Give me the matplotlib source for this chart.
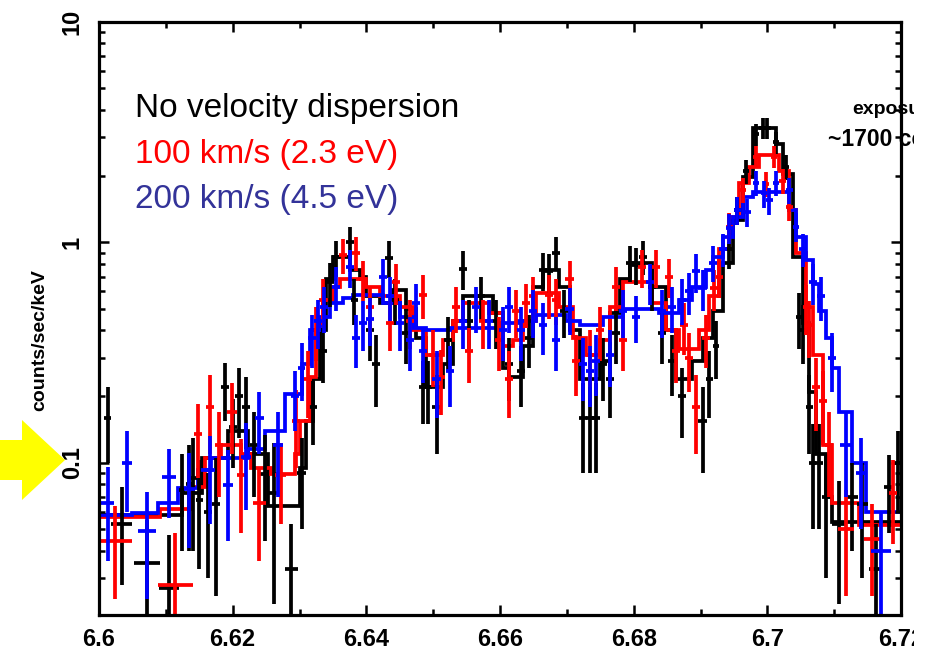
import numpy as np
import matplotlib
matplotlib.use('Agg')
import matplotlib.pyplot as plt
from matplotlib.patches import Polygon, Rectangle
from matplotlib.ticker import LogLocator, NullFormatter, MultipleLocator

plt.rcParams['font.family'] = ['Liberation Sans', 'DejaVu Sans']

# model step curves: bin edges (keV) and values (counts/sec/keV)
black_edges = [6.6000, 6.6124, 6.6154, 6.6193, 6.6223, 6.6253, 6.6300, 6.6310, 6.6320, 6.6330,
               6.6340, 6.6350, 6.6375, 6.6390, 6.6400, 6.6420, 6.6440, 6.6460, 6.6475, 6.6490,
               6.6515, 6.6530, 6.6544, 6.6589, 6.6604, 6.6614, 6.6634, 6.6649, 6.6664, 6.6689,
               6.6704, 6.6719, 6.6749, 6.6764, 6.6779, 6.6794, 6.6828, 6.6848, 6.6863, 6.6888,
               6.6903, 6.6918, 6.6933, 6.6948, 6.6963, 6.6978, 6.7013, 6.7023, 6.7038, 6.7053,
               6.7063, 6.7073, 6.7088, 6.7097, 6.7200]
black_model = [0.058, 0.073, 0.105, 0.14, 0.11, 0.064, 0.095, 0.155, 0.24, 0.40,
               0.68, 0.86, 0.75, 0.70, 0.57, 0.53, 0.61, 0.50, 0.37, 0.22,
               0.28, 0.44, 0.57, 0.48, 0.27, 0.245, 0.34, 0.63, 0.75, 0.63,
               0.40, 0.24, 0.29, 0.48, 0.68, 0.81, 0.63, 0.40, 0.24, 0.29,
               0.37, 0.49, 0.81, 1.27, 1.98, 3.3, 2.8, 2.05, 0.86, 0.43,
               0.21, 0.11, 0.07, 0.054]

red_edges = [6.6000, 6.6091, 6.6139, 6.6158, 6.6183, 6.6213, 6.6228, 6.6258, 6.6293, 6.6300,
             6.6315, 6.6325, 6.6335, 6.6350, 6.6360, 6.6400, 6.6420, 6.6450, 6.6470, 6.6490,
             6.6515, 6.6530, 6.6544, 6.6584, 6.6604, 6.6619, 6.6634, 6.6654, 6.6689, 6.6709,
             6.6729, 6.6749, 6.6764, 6.6784, 6.6828, 6.6848, 6.6868, 6.6898, 6.6913, 6.6928,
             6.6943, 6.6958, 6.6973, 6.6988, 6.7018, 6.7033, 6.7043, 6.7058, 6.7068, 6.7083,
             6.7097, 6.7137, 6.7200]
red_model = [0.057, 0.062, 0.078, 0.105, 0.12, 0.11, 0.095, 0.089, 0.11, 0.155,
             0.245, 0.40, 0.55, 0.63, 0.68, 0.63, 0.57, 0.51, 0.40, 0.31,
             0.36, 0.44, 0.53, 0.48, 0.34, 0.36, 0.44, 0.59, 0.51, 0.37,
             0.31, 0.36, 0.51, 0.66, 0.53, 0.40, 0.33, 0.40, 0.57, 0.93,
             1.3, 1.86, 2.2, 2.5, 2.1, 1.4, 0.9, 0.51, 0.31, 0.12,
             0.066, 0.052]

blue_edges = [6.6000, 6.6049, 6.6089, 6.6118, 6.6148, 6.6168, 6.6223, 6.6248, 6.6278, 6.6303,
              6.6315, 6.6330, 6.6345, 6.6365, 6.6380, 6.6425, 6.6450, 6.6470, 6.6490, 6.6525,
              6.6600, 6.6629, 6.6654, 6.6699, 6.6719, 6.6754, 6.6784, 6.6838, 6.6868, 6.6888,
              6.6908, 6.6918, 6.6933, 6.6948, 6.6963, 6.6978, 6.7033, 6.7043, 6.7058, 6.7068,
              6.7078, 6.7088, 6.7097, 6.7107, 6.7127, 6.7147, 6.7200]
blue_model = [0.058, 0.059, 0.066, 0.077, 0.093, 0.105, 0.115, 0.14, 0.205, 0.28,
              0.40, 0.46, 0.53, 0.56, 0.58, 0.53, 0.46, 0.41, 0.40, 0.41,
              0.43, 0.44, 0.47, 0.44, 0.42, 0.46, 0.50, 0.48, 0.55, 0.63,
              0.75, 0.86, 1.06, 1.3, 1.6, 1.7, 1.4, 1.06, 0.83, 0.65,
              0.49, 0.37, 0.27, 0.17, 0.10, 0.06]

# simulated data: energy, bin half width, rate, 1-sigma error
black_x = [6.6013, 6.6034, 6.6072, 6.6105, 6.6124, 6.6135, 6.6141, 6.6150, 6.6163, 6.6175,
           6.6188, 6.6200, 6.6210, 6.6220, 6.6232, 6.6248, 6.6262, 6.6288, 6.6303, 6.6320,
           6.6335, 6.6345, 6.6355, 6.6375, 6.6382, 6.6405, 6.6415, 6.6434, 6.6443, 6.6460,
           6.6485, 6.6493, 6.6505, 6.6522, 6.6544, 6.6554, 6.6572, 6.6594, 6.6614, 6.6632,
           6.6644, 6.6664, 6.6674, 6.6684, 6.6696, 6.6724, 6.6734, 6.6744, 6.6754, 6.6764,
           6.6774, 6.6794, 6.6804, 6.6814, 6.6828, 6.6843, 6.6858, 6.6873, 6.6903, 6.6913,
           6.6923, 6.6943, 6.6955, 6.6968, 6.6983, 6.6993, 6.7000, 6.7013, 6.7028, 6.7048,
           6.7053, 6.7063, 6.7068, 6.7078, 6.7088, 6.7107, 6.7127, 6.7142, 6.7162, 6.7182,
           6.7195]
black_hw = [0.0005, 0.0016, 0.0020, 0.0015, 0.0005, 0.0005, 0.0005, 0.0005, 0.0006, 0.0006,
            0.0006, 0.0006, 0.0006, 0.0006, 0.0006, 0.0007, 0.0007, 0.0010, 0.0006, 0.0006,
            0.0006, 0.0006, 0.0006, 0.0006, 0.0005, 0.0006, 0.0006, 0.0006, 0.0006, 0.0006,
            0.0006, 0.0005, 0.0006, 0.0006, 0.0006, 0.0006, 0.0006, 0.0006, 0.0006, 0.0006,
            0.0006, 0.0006, 0.0006, 0.0006, 0.0006, 0.0006, 0.0006, 0.0006, 0.0006, 0.0006,
            0.0006, 0.0006, 0.0006, 0.0006, 0.0006, 0.0006, 0.0006, 0.0006, 0.0006, 0.0005,
            0.0005, 0.0005, 0.0005, 0.0005, 0.0005, 0.0005, 0.0005, 0.0005, 0.0005, 0.0005,
            0.0005, 0.0005, 0.0005, 0.0006, 0.0006, 0.0010, 0.0008, 0.0008, 0.0010, 0.0008,
            0.0005]
black_y = [0.16, 0.053, 0.035, 0.027, 0.075, 0.08, 0.085, 0.068, 0.06, 0.065,
           0.22, 0.145, 0.20, 0.18, 0.12, 0.089, 0.073, 0.033, 0.09, 0.18,
           0.32, 0.66, 0.86, 1.0, 0.55, 0.40, 0.28, 0.85, 0.55, 0.39,
           0.22, 0.22, 0.18, 0.36, 0.76, 0.44, 0.57, 0.44, 0.28, 0.26,
           0.37, 0.75, 0.74, 0.90, 0.49, 0.16, 0.16, 0.16, 0.28, 0.24,
           0.39, 0.81, 0.79, 0.86, 0.63, 0.39, 0.29, 0.20, 0.155, 0.24,
           0.34, 0.93, 1.4, 2.1, 3.1, 3.3, 3.3, 2.85, 2.2, 0.46,
           0.40, 0.18, 0.10, 0.10, 0.07, 0.053, 0.07, 0.065, 0.033, 0.078,
           0.10]
black_err = [0.06, 0.025, 0.02, 0.02, 0.035, 0.04, 0.045, 0.035, 0.03, 0.04,
             0.065, 0.05, 0.07, 0.065, 0.05, 0.045, 0.05, 0.02, 0.04, 0.06,
             0.09, 0.15, 0.16, 0.17, 0.13, 0.11, 0.10, 0.16, 0.13, 0.11,
             0.07, 0.07, 0.07, 0.10, 0.15, 0.11, 0.13, 0.11, 0.09, 0.08,
             0.10, 0.15, 0.15, 0.16, 0.12, 0.07, 0.07, 0.07, 0.09, 0.08,
             0.11, 0.15, 0.15, 0.15, 0.14, 0.11, 0.09, 0.07, 0.065, 0.08,
             0.10, 0.17, 0.20, 0.26, 0.35, 0.35, 0.35, 0.33, 0.28, 0.13,
             0.12, 0.07, 0.05, 0.05, 0.04, 0.03, 0.03, 0.035, 0.02, 0.03,
             0.04]

red_x = [6.6024, 6.6114, 6.6148, 6.6166, 6.6180, 6.6199, 6.6213, 6.6240, 6.6272, 6.6295,
         6.6312, 6.6325, 6.6335, 6.6365, 6.6385, 6.6395, 6.6405, 6.6435, 6.6445, 6.6465,
         6.6485, 6.6500, 6.6512, 6.6534, 6.6554, 6.6574, 6.6599, 6.6614, 6.6624, 6.6639,
         6.6649, 6.6674, 6.6684, 6.6704, 6.6714, 6.6734, 6.6749, 6.6774, 6.6784, 6.6813,
         6.6833, 6.6853, 6.6863, 6.6876, 6.6883, 6.6893, 6.6908, 6.6920, 6.6928, 6.6943,
         6.6963, 6.6983, 6.6998, 6.7010, 6.7023, 6.7033, 6.7058, 6.7063, 6.7073, 6.7083,
         6.7093, 6.7117, 6.7157, 6.7188]
red_hw = [0.0026, 0.0026, 0.0006, 0.0006, 0.0006, 0.0008, 0.0007, 0.0010, 0.0008, 0.0006,
          0.0006, 0.0006, 0.0006, 0.0006, 0.0006, 0.0006, 0.0006, 0.0006, 0.0006, 0.0006,
          0.0006, 0.0006, 0.0006, 0.0006, 0.0006, 0.0006, 0.0006, 0.0006, 0.0006, 0.0006,
          0.0006, 0.0006, 0.0006, 0.0006, 0.0006, 0.0006, 0.0006, 0.0006, 0.0006, 0.0006,
          0.0006, 0.0006, 0.0006, 0.0006, 0.0006, 0.0006, 0.0006, 0.0006, 0.0005, 0.0005,
          0.0005, 0.0005, 0.0005, 0.0005, 0.0005, 0.0005, 0.0005, 0.0005, 0.0006, 0.0006,
          0.0006, 0.0012, 0.0012, 0.0006]
red_y = [0.044, 0.028, 0.135, 0.18, 0.12, 0.17, 0.088, 0.066, 0.088, 0.155,
         0.24, 0.40, 0.55, 0.88, 0.90, 0.68, 0.51, 0.43, 0.66, 0.44,
         0.58, 0.31, 0.245, 0.51, 0.32, 0.44, 0.36, 0.24, 0.49, 0.53,
         0.57, 0.58, 0.55, 0.68, 0.29, 0.31, 0.40, 0.63, 0.36, 0.77,
         0.77, 0.70, 0.32, 0.42, 0.30, 0.18, 0.37, 0.62, 0.70, 1.18,
         1.73, 2.45, 1.85, 2.45, 1.9, 1.45, 0.51, 0.42, 0.22, 0.19,
         0.12, 0.05, 0.045, 0.073]
red_err = [0.02, 0.02, 0.05, 0.07, 0.05, 0.06, 0.04, 0.03, 0.035, 0.06,
           0.08, 0.11, 0.13, 0.16, 0.16, 0.14, 0.12, 0.11, 0.14, 0.11,
           0.13, 0.09, 0.08, 0.12, 0.09, 0.11, 0.10, 0.08, 0.12, 0.12,
           0.13, 0.13, 0.13, 0.14, 0.09, 0.09, 0.11, 0.14, 0.10, 0.15,
           0.15, 0.14, 0.09, 0.11, 0.09, 0.07, 0.10, 0.13, 0.14, 0.18,
           0.22, 0.28, 0.24, 0.28, 0.25, 0.20, 0.13, 0.12, 0.08, 0.07,
           0.05, 0.025, 0.02, 0.03]

blue_x = [6.6013, 6.6042, 6.6072, 6.6105, 6.6135, 6.6166, 6.6193, 6.6220, 6.6240, 6.6268,
          6.6293, 6.6303, 6.6318, 6.6327, 6.6337, 6.6355, 6.6375, 6.6385, 6.6395, 6.6405,
          6.6425, 6.6435, 6.6450, 6.6465, 6.6475, 6.6485, 6.6505, 6.6525, 6.6544, 6.6564,
          6.6584, 6.6604, 6.6614, 6.6632, 6.6649, 6.6664, 6.6684, 6.6704, 6.6724, 6.6734,
          6.6744, 6.6764, 6.6784, 6.6804, 6.6824, 6.6843, 6.6858, 6.6873, 6.6883, 6.6893,
          6.6903, 6.6918, 6.6933, 6.6943, 6.6955, 6.6970, 6.6983, 6.6995, 6.7003, 6.7013,
          6.7033, 6.7043, 6.7053, 6.7068, 6.7080, 6.7097, 6.7117, 6.7140, 6.7170]
blue_hw = [0.0010, 0.0007, 0.0013, 0.0010, 0.0008, 0.0007, 0.0008, 0.0007, 0.0007, 0.0008,
           0.0006, 0.0005, 0.0006, 0.0006, 0.0006, 0.0006, 0.0006, 0.0006, 0.0006, 0.0006,
           0.0006, 0.0006, 0.0006, 0.0006, 0.0006, 0.0006, 0.0006, 0.0006, 0.0006, 0.0006,
           0.0006, 0.0006, 0.0006, 0.0006, 0.0006, 0.0006, 0.0006, 0.0006, 0.0006, 0.0006,
           0.0006, 0.0006, 0.0006, 0.0006, 0.0006, 0.0006, 0.0006, 0.0006, 0.0006, 0.0006,
           0.0006, 0.0006, 0.0006, 0.0005, 0.0005, 0.0005, 0.0005, 0.0005, 0.0005, 0.0005,
           0.0005, 0.0005, 0.0005, 0.0006, 0.0006, 0.0006, 0.0008, 0.0008, 0.0015]
blue_y = [0.066, 0.10, 0.049, 0.086, 0.076, 0.093, 0.079, 0.106, 0.16, 0.12,
          0.20, 0.27, 0.37, 0.44, 0.51, 0.63, 0.77, 0.37, 0.43, 0.45,
          0.70, 0.57, 0.43, 0.36, 0.53, 0.32, 0.24, 0.26, 0.44, 0.51,
          0.44, 0.40, 0.51, 0.40, 0.49, 0.42, 0.36, 0.50, 0.28, 0.26,
          0.29, 0.31, 0.49, 0.46, 0.66, 0.49, 0.51, 0.55, 0.60, 0.74,
          0.62, 0.81, 0.93, 1.16, 1.4, 1.38, 1.86, 1.67, 1.55, 1.86,
          1.73, 1.18, 0.93, 0.66, 0.57, 0.30, 0.12, 0.09, 0.04]
blue_err = [0.03, 0.04, 0.025, 0.03, 0.035, 0.04, 0.035, 0.045, 0.05, 0.05,
            0.06, 0.08, 0.10, 0.11, 0.12, 0.14, 0.15, 0.10, 0.11, 0.11,
            0.14, 0.13, 0.11, 0.10, 0.12, 0.09, 0.08, 0.08, 0.11, 0.12,
            0.11, 0.11, 0.12, 0.11, 0.12, 0.11, 0.10, 0.12, 0.09, 0.08,
            0.09, 0.09, 0.12, 0.11, 0.14, 0.12, 0.12, 0.13, 0.13, 0.15,
            0.13, 0.15, 0.16, 0.18, 0.20, 0.20, 0.24, 0.23, 0.22, 0.24,
            0.23, 0.18, 0.16, 0.14, 0.13, 0.09, 0.05, 0.04, 0.02]

labels = ['No velocity dispersion', '100 km/s (2.3 eV)', '200 km/s (4.5 eV)']
label_colors = ['black', '#ff0000', '#333399']

series = [
    ('black', black_edges, black_model, black_x, black_hw, black_y, black_err),
    ('#ff0000', red_edges, red_model, red_x, red_hw, red_y, red_err),
    ('#0000ff', blue_edges, blue_model, blue_x, blue_hw, blue_y, blue_err),
]

W, H = 932, 650
fig = plt.figure(figsize=(W / 100, H / 100), dpi=100)
ax = fig.add_axes([99 / W, 1 - 615 / H, (901 - 99) / W, (615 - 22) / H])

for color, edges, model, x, hw, y, err in series:
    y = np.array(y)
    err = np.array(err)
    lower = np.minimum(err, y * 0.99)
    ax.errorbar(x, y, xerr=hw, yerr=[lower, err], fmt='none', ecolor=color,
                elinewidth=2.7, capsize=0)
    ax.stairs(model, edges, baseline=None, color=color, lw=2.7)

ax.set_yscale('log')
ax.set_xlim(6.6, 6.72)
ax.set_ylim(0.0204, 10)

ax.xaxis.set_minor_locator(MultipleLocator(0.01))
ax.set_xticks([6.6, 6.62, 6.64, 6.66, 6.68, 6.7, 6.72])
ax.set_xticklabels(['6.6', '6.62', '6.64', '6.66', '6.68', '6.7', '6.72'])
ax.set_yticks([0.1, 1, 10])
ax.set_yticklabels(['0.1', '1', '10'], rotation=90, va='center')
ax.yaxis.set_minor_locator(LogLocator(base=10, subs=np.arange(2, 10)))
ax.yaxis.set_minor_formatter(NullFormatter())

ax.tick_params(which='both', direction='in', top=True, right=True, width=1.8)
ax.tick_params(which='major', length=7.5)
ax.tick_params(which='minor', length=4.5)
ax.tick_params(axis='x', pad=9, labelsize=17)
ax.tick_params(axis='y', pad=11, labelsize=17)
for lab in ax.get_xticklabels() + ax.get_yticklabels():
    lab.set_fontweight('bold')
for sp in ax.spines.values():
    sp.set_linewidth(2.3)

fig.text(40 / W, 1 - 340 / H, 'counts/sec/keV', rotation=90, ha='center', va='center',
         fontsize=14, fontweight='bold')

baselines = [117, 163, 208]
for txt, col, b in zip(labels, label_colors, baselines):
    fig.text(135 / W, 1 - b / H, txt, color=col, fontsize=24, ha='left', va='baseline')

fig.text(852 / W, 1 - 114 / H, 'exposure', fontsize=14, fontweight='bold', va='baseline')
fig.text(828 / W, 1 - 146 / H, '~1700 counts', fontsize=16.5, fontweight='bold', va='baseline')

# yellow arrow pointing at 0.1
arrow_px = [(0, 440), (22, 440), (22, 420), (65, 460), (22, 500), (22, 480), (0, 480)]
arrow = Polygon([(px / W, 1 - py / H) for px, py in arrow_px], closed=True,
                transform=fig.transFigure, facecolor='#ffff00', edgecolor='none')
fig.patches.append(arrow)

# the original picture is cropped on its right side
fig.patches.append(Rectangle((914 / W, 0), 1 - 914 / W, 1, transform=fig.transFigure,
                             facecolor='white', edgecolor='none', zorder=10))

fig.savefig('out.png', dpi=100)
